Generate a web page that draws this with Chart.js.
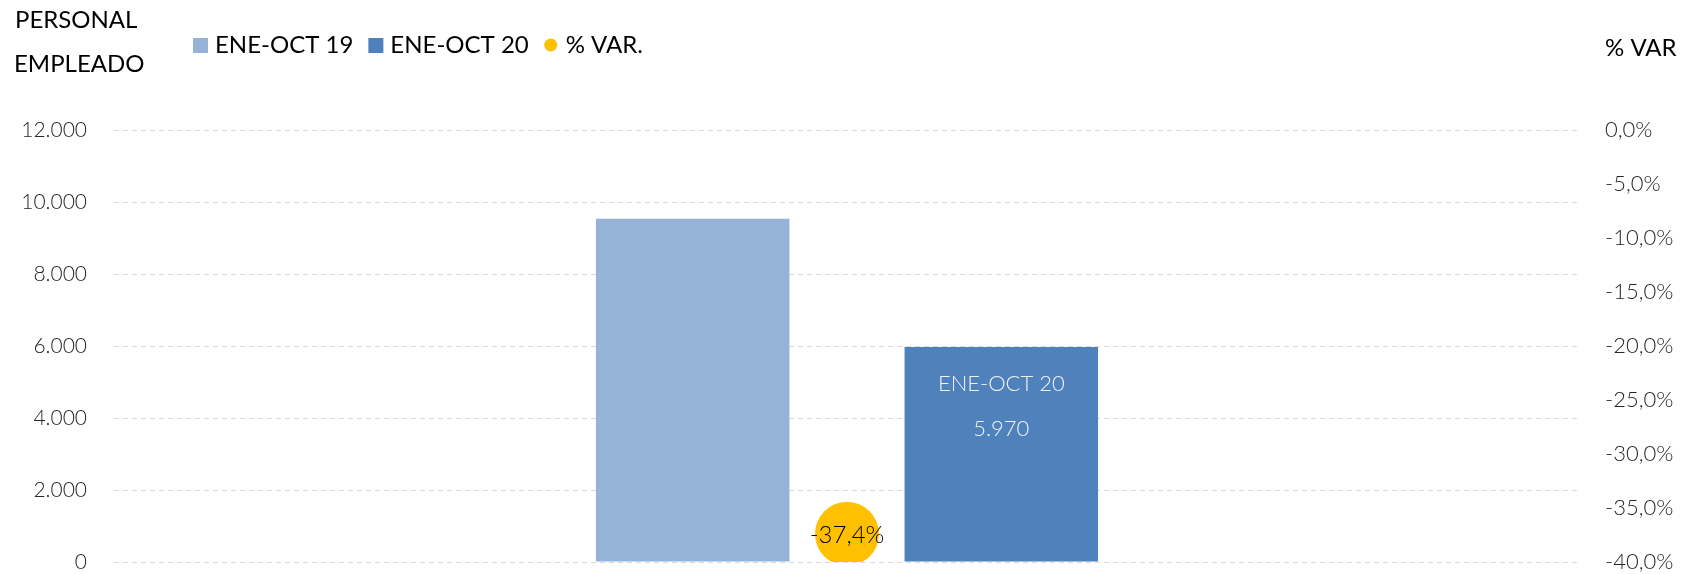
<!DOCTYPE html>
<html>
<head>
<meta charset="utf-8">
<script src="https://cdn.jsdelivr.net/npm/chart.js@4.4.1/dist/chart.umd.min.js"></script>
<style>
  html, body { margin: 0; padding: 0; background: #fff; }
</style>
</head>
<body>
<canvas id="myChart" width="1686" height="574"></canvas>
<script>
// data
const categories = ['ENE-OCT'];
const seriesNames = ['ENE-OCT 19', 'ENE-OCT 20', '% VAR.'];
const empleo19 = [9537];
const empleo20 = [5970];
const varPct = [-37.4];
const leftTicks = [0, 2000, 4000, 6000, 8000, 10000, 12000];
const rightTicks = [-40, -35, -30, -25, -20, -15, -10, -5, 0];

const colors = ['#95B3D7', '#4F81BD', '#FFC000'];
const FONT = 'Lato';

const fmtMiles = v => String(v).replace(/\B(?=(\d{3})+(?!\d))/g, '.');
const fmtPct = v => v.toFixed(1).replace('.', ',') + '%';

const ctx = document.getElementById('myChart').getContext('2d');

// titles + legend drawn on the canvas
const headerPlugin = {
  id: 'header',
  afterDraw(chart) {
    const c = chart.ctx;
    c.save();
    c.textBaseline = 'middle';
    c.textAlign = 'left';
    c.fillStyle = '#000';
    c.font = '24px ' + FONT;
    c.fillText('PERSONAL', 15, 20);
    c.fillText('EMPLEADO', 14, 64);
    c.fillText('% VAR', 1605, 48);

    // legend
    let x = 193;
    const y = 45;
    chart.data.datasets.forEach(ds => {
      c.fillStyle = ds.backgroundColor;
      if (ds.type === 'line') {
        c.beginPath();
        c.arc(x + 7, y, 6.5, 0, Math.PI * 2);
        c.fill();
      } else {
        c.fillRect(x, y - 7, 15, 15);
      }
      c.fillStyle = '#000';
      c.font = '24px ' + FONT;
      c.fillText(ds.label, x + 22, y);
      x += 22 + c.measureText(ds.label).width + 15;
    });
    c.restore();
  }
};

// data labels
const labelPlugin = {
  id: 'valueLabels',
  afterDatasetsDraw(chart) {
    const c = chart.ctx;
    c.save();
    c.textAlign = 'center';
    c.textBaseline = 'middle';
    const bar = chart.getDatasetMeta(1).data[0];
    c.fillStyle = '#f2f2f2';
    c.font = '300 22px ' + FONT;
    c.fillText(seriesNames[1], bar.x, bar.y + 37);
    c.fillText(fmtMiles(empleo20[0]), bar.x, bar.y + 82);
    const pt = chart.getDatasetMeta(2).data[0];
    c.fillStyle = '#000';
    c.font = '300 24px ' + FONT;
    c.fillText(fmtPct(varPct[0]), pt.x, pt.y + 1);
    c.restore();
  }
};

const data = {
  labels: categories,
  datasets: [{
    label: seriesNames[0],
    data: empleo19,
    backgroundColor: colors[0],
    yAxisID: 'y',
    order: 1,
    categoryPercentage: 0.421,
    barPercentage: 0.627,
  }, {
    label: seriesNames[1],
    data: empleo20,
    backgroundColor: colors[1],
    yAxisID: 'y',
    order: 1,
    categoryPercentage: 0.421,
    barPercentage: 0.627,
  }, {
    type: 'line',
    label: seriesNames[2],
    data: varPct,
    backgroundColor: colors[2],
    borderColor: colors[2],
    pointBackgroundColor: colors[2],
    pointBorderWidth: 0,
    pointRadius: 32,
    pointHoverRadius: 32,
    showLine: false,
    yAxisID: 'y1',
    order: 0,
  }]
};

const fixSize = w => s => {
  s.width = w;
  s.paddingTop = 0;
  s.paddingBottom = 0;
};

const config = {
  type: 'bar',
  data: data,
  options: {
    responsive: false,
    animation: false,
    layout: { autoPadding: false, padding: { top: 130, bottom: 12, left: 0, right: 0 } },
    plugins: {
      legend: { display: false },
      tooltip: { enabled: false },
    },
    scales: {
      x: { display: false },
      y: {
        position: 'left',
        min: 0,
        max: 12000,
        afterBuildTicks: s => { s.ticks = leftTicks.map(v => ({ value: v })); },
        afterFit: fixSize(114),
        border: { display: false, dash: [5, 4] },
        grid: { color: '#d9d9d9', drawTicks: false, lineWidth: 1 },
        ticks: {
          padding: 27,
          color: '#262626',
          font: { family: FONT, size: 21, weight: '300', lineHeight: 1 },
          callback: v => fmtMiles(v),
        },
      },
      y1: {
        position: 'right',
        min: -40,
        max: 0,
        afterBuildTicks: s => { s.ticks = rightTicks.map(v => ({ value: v })); },
        afterFit: fixSize(106),
        border: { display: false },
        grid: { display: false, drawTicks: false },
        ticks: {
          padding: 25,
          color: '#262626',
          font: { family: FONT, size: 22, weight: '300', lineHeight: 1 },
          callback: v => fmtPct(v),
        },
      },
    },
  },
  plugins: [labelPlugin, headerPlugin],
};

const myChart = new Chart(ctx, config);
</script>
</body>
</html>
